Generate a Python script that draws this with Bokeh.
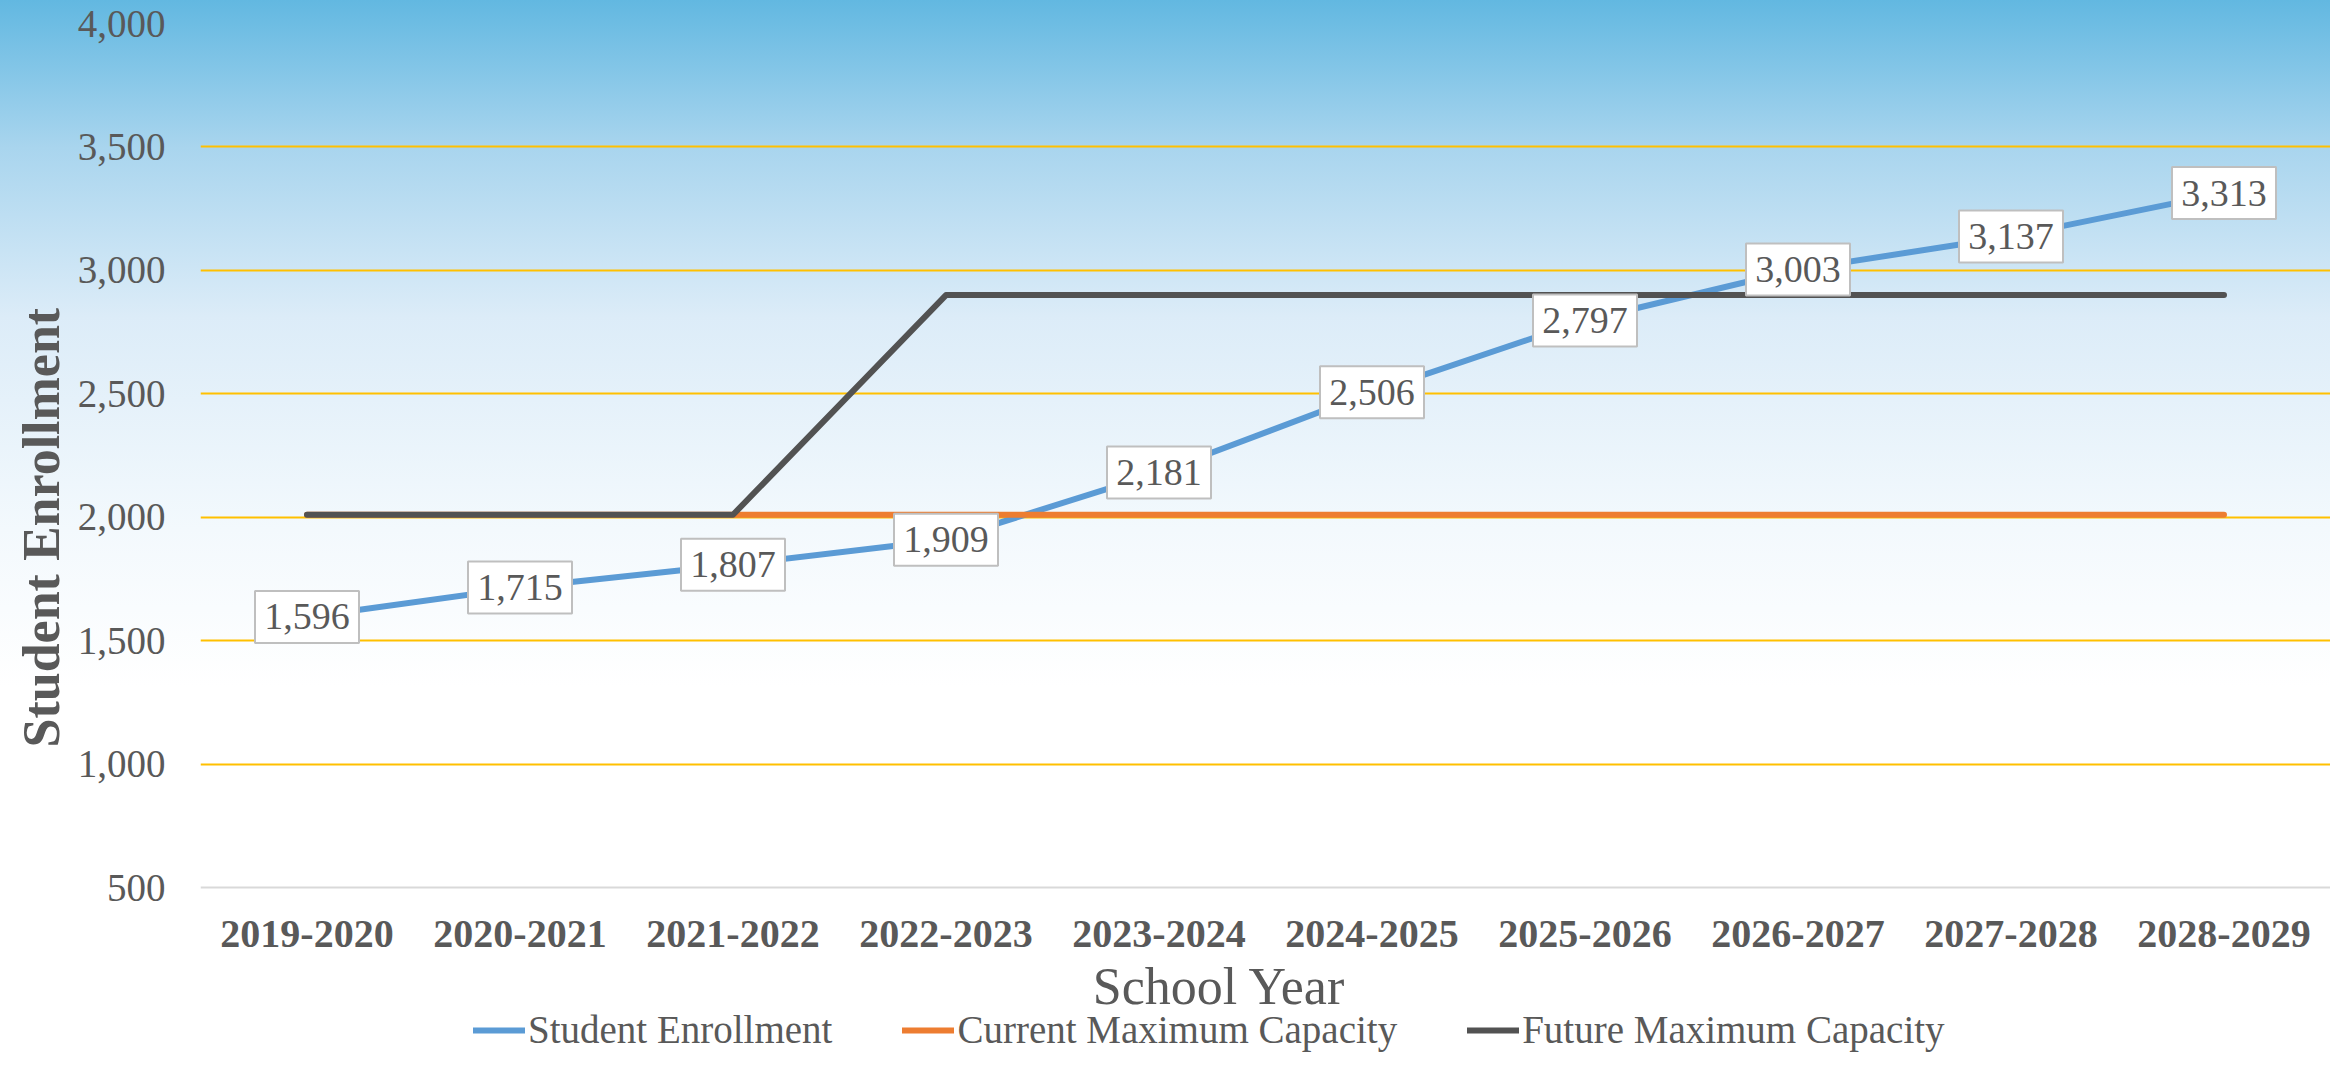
import math
from bokeh.plotting import figure
from bokeh.models import (Legend, LegendItem, Title, Label, Span, FixedTicker, NumeralTickFormatter,
                          Range1d, ColumnDataSource)
from bokeh.core.properties import value
from bokeh.embed import file_html
from bokeh.resources import INLINE

# ---- data ----
years = ["2019-2020", "2020-2021", "2021-2022", "2022-2023", "2023-2024",
         "2024-2025", "2025-2026", "2026-2027", "2027-2028", "2028-2029"]
enrollment = [1596, 1715, 1807, 1909, 2181, 2506, 2797, 3003, 3137, 3313]
current_capacity = [2010, 2010, 2010, 2010, 2010, 2010, 2010, 2010, 2010, 2010]
future_capacity = [2010, 2010, 2010, 2900, 2900, 2900, 2900, 2900, 2900, 2900]
y_ticks = [500, 1000, 1500, 2000, 2500, 3000, 3500, 4000]

FONT = "Liberation Serif"
TXT = "#595959"

# ---- layout geometry (pixels) ----
W, H = 2330, 1058
LEFT, RIGHT, TOP = 200, 0, 23
AXIS_PX = 887            # pixel row of the lowest tick (500) on the canvas
BELOW = H - AXIS_PX      # space kept under the value axis for labels/legend
span = y_ticks[-1] - y_ticks[0]
y_lo = y_ticks[0] - BELOW * span / (AXIS_PX - TOP)

src = ColumnDataSource(dict(
    year=years, enr=enrollment, cur=current_capacity, fut=future_capacity,
    lab=[f"{v:,}" for v in enrollment],
    base=[y_ticks[0]] * len(years)))

p = figure(x_range=years, y_range=Range1d(y_lo, y_ticks[-1]), width=W, height=H,
           output_backend="svg", toolbar_location=None,
           min_border_left=LEFT, min_border_right=RIGHT, min_border_top=TOP, min_border_bottom=0)

p.border_fill_color = None
p.background_fill_color = None
p.outline_line_color = None
p.styles = {"background": "linear-gradient(to bottom, #62b8e1 0%, #a9d5ee 14%, #dcecf8 30%, #f3f9fd 50%, #ffffff 65%)"}

# grid / axes
p.xgrid.grid_line_color = None
p.ygrid.ticker = FixedTicker(ticks=y_ticks[1:])
p.ygrid.grid_line_color = "#FFC000"
p.ygrid.grid_line_width = 2
p.add_layout(Span(location=y_ticks[0], dimension="width", line_color="#d9d9d9", line_width=2))

p.yaxis.ticker = FixedTicker(ticks=y_ticks)
p.yaxis.formatter = NumeralTickFormatter(format="0,0")
p.yaxis.axis_line_color = None
p.yaxis.major_tick_line_color = None
p.yaxis.minor_tick_line_color = None
p.yaxis.major_tick_out = 0
p.yaxis.major_label_standoff = 35
p.yaxis.major_label_text_font = FONT
p.yaxis.major_label_text_font_size = "39px"
p.yaxis.major_label_text_color = TXT
p.xaxis.visible = False

# category labels under the value axis
p.text("year", "base", text="year", source=src, y_offset=46, text_align="center", text_baseline="middle",
       text_font=value(FONT), text_font_size="40px", text_font_style="bold", text_color=TXT)

# lines
r1 = p.line("year", "enr", source=src, line_color="#5B9BD5", line_width=6, line_cap="round", line_join="round")
r2 = p.line("year", "cur", source=src, line_color="#ED7D31", line_width=6, line_cap="round", line_join="round")
r3 = p.line("year", "fut", source=src, line_color="#525252", line_width=6, line_cap="round", line_join="round")

# data labels
p.rect("year", "enr", source=src, width=104, height=52, width_units="screen", height_units="screen",
       fill_color="white", line_color="#bfbfbf", line_width=2)
p.text("year", "enr", text="lab", source=src, text_align="center", text_baseline="middle",
       text_font=value(FONT), text_font_size="38px", text_color=TXT)

# axis titles
p.add_layout(Title(text="Student Enrollment", align="left", offset=311, standoff=10,
                   text_font=FONT, text_font_size="52px", text_font_style="bold", text_color=TXT), "left")
p.add_layout(Label(x=1019, y=72, x_units="screen", y_units="screen", text="School Year",
                   text_align="center", text_baseline="middle",
                   text_font=FONT, text_font_size="52px", text_color=TXT))

legend = Legend(items=[LegendItem(label="Student Enrollment", renderers=[r1]),
                       LegendItem(label="Current Maximum Capacity", renderers=[r2]),
                       LegendItem(label="Future Maximum Capacity", renderers=[r3])],
                orientation="horizontal", location=(273, 6),
                padding=0, margin=0, spacing=70, glyph_width=52, glyph_height=28,
                label_height=28, label_standoff=3,
                label_text_font=FONT, label_text_font_size="39px", label_text_color=TXT,
                border_line_color=None, background_fill_alpha=0)
p.add_layout(legend)

open("out.html", "w").write(file_html(p, INLINE))
